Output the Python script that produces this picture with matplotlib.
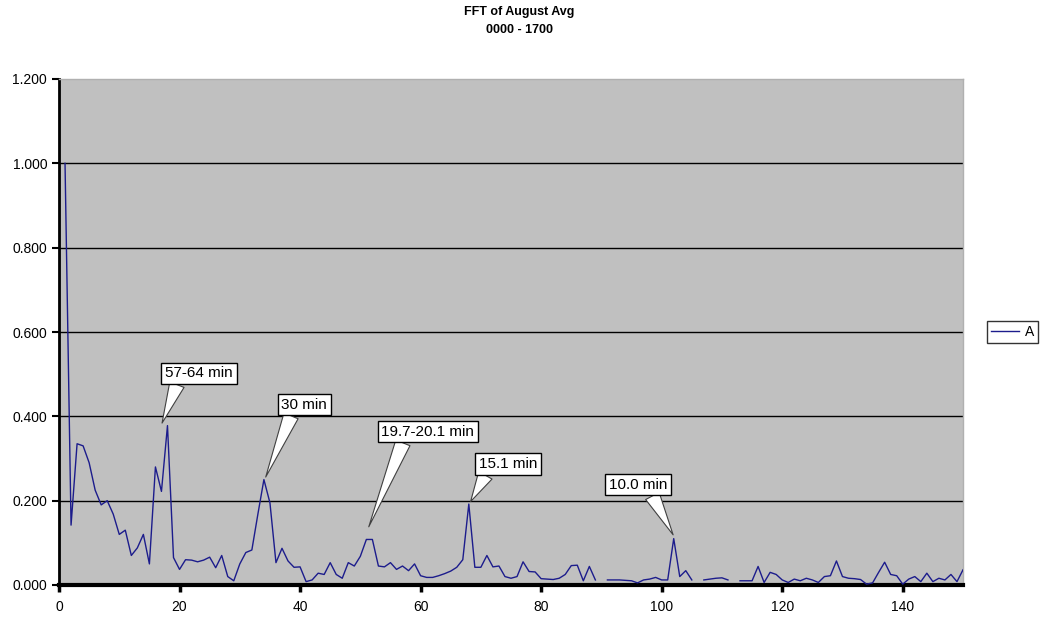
import numpy as np
import matplotlib
matplotlib.use('Agg')
from matplotlib import pyplot as plt

plt.rcParams['font.family'] = ['Liberation Sans', 'DejaVu Sans']

# FFT bin index (1024 samples) and normalised amplitude
k = list(range(1, 151))
amp = [1.000, 0.142, 0.335, 0.330, 0.290, 0.225, 0.190, 0.200, 0.168, 0.120,
       0.130, 0.070, 0.088, 0.120, 0.050, 0.280, 0.222, 0.378, 0.065, 0.037,
       0.060, 0.059, 0.055, 0.059, 0.066, 0.041, 0.070, 0.020, 0.010, 0.050,
       0.077, 0.083, 0.168, 0.250, 0.195, 0.053, 0.087, 0.057, 0.042, 0.043,
       0.008, 0.012, 0.028, 0.025, 0.053, 0.025, 0.016, 0.053, 0.045, 0.068,
       0.108, 0.108, 0.045, 0.043, 0.053, 0.037, 0.045, 0.034, 0.050, 0.022,
       0.018, 0.018, 0.022, 0.027, 0.033, 0.042, 0.060, 0.192, 0.042, 0.042,
       0.070, 0.043, 0.045, 0.020, 0.016, 0.020, 0.055, 0.032, 0.031, 0.015,
       0.014, 0.013, 0.016, 0.025, 0.046, 0.047, 0.010, 0.044, 0.012, np.nan,
       0.012, 0.012, 0.012, 0.011, 0.010, 0.005, 0.012, 0.014, 0.018, 0.012,
       0.012, 0.110, 0.020, 0.034, 0.012, np.nan, 0.012, 0.014, 0.016, 0.017,
       0.012, np.nan, 0.010, 0.010, 0.010, 0.044, 0.006, 0.030, 0.025, 0.012,
       0.006, 0.014, 0.010, 0.016, 0.012, 0.006, 0.020, 0.022, 0.057, 0.020,
       0.016, 0.015, 0.013, 0.002, 0.005, 0.030, 0.054, 0.025, 0.022, 0.002,
       0.014, 0.020, 0.008, 0.028, 0.008, 0.016, 0.012, 0.025, 0.008, 0.036]

# callouts: label, peak point, text point, where the wedge leaves the box
notes = ['57-64 min', '30 min', '19.7-20.1 min', '15.1 min', '10.0 min']
note_xy = [(17.1, 0.384), (34.3, 0.256), (51.4, 0.138), (68.3, 0.198), (101.9, 0.119)]
note_txt = [(17.6, 0.502), (36.9, 0.428), (53.5, 0.364), (69.7, 0.287), (91.3, 0.238)]
note_rel = [(0.2, 0.0), (0.25, 0.0), (0.25, 0.0), (0.15, 0.0), (0.7, 0.0)]

fig = plt.figure(figsize=(10.41, 6.18), dpi=100)
ax = fig.add_axes([59/1041, 1-585/618, (963-59)/1041, (585-79)/618])
ax.set_facecolor('#c0c0c0')

line, = ax.plot(k, amp, color='#1c1c8c', lw=1.0, zorder=3)

ax.set_xlim(0, 150)
ax.set_ylim(0, 1.2)
ax.set_xticks(range(0, 141, 20))
ax.set_yticks(np.arange(0, 1.21, 0.2))
ax.set_yticklabels(['%.3f' % v for v in np.arange(0, 1.21, 0.2)])
for v in [0.2, 0.4, 0.6, 0.8, 1.0]:
    ax.axhline(v, color='black', lw=1, zorder=1)

ax.tick_params(axis='both', direction='out', length=5, width=1.5, labelsize=10, colors='black')
ax.tick_params(axis='x', width=2.5, pad=6)
for s in ['top', 'right']:
    ax.spines[s].set_color('#b0b0b0')
    ax.spines[s].set_linewidth(1)
ax.spines['left'].set_linewidth(2)
ax.spines['bottom'].set_linewidth(3)

for lab, xy, xt, rel in zip(notes, note_xy, note_txt, note_rel):
    ax.annotate(lab, xy=xy, xytext=xt, ha='left', va='center', fontsize=11, zorder=5,
                bbox=dict(boxstyle='square,pad=0.25', fc='white', ec='black', lw=1),
                arrowprops=dict(arrowstyle='wedge,tail_width=1.0,shrink_factor=0.5',
                                fc='white', ec='#404040', lw=0.8, relpos=rel,
                                shrinkA=0, shrinkB=0))

fig.text(519/1041, 1-12/618, 'FFT of August Avg', ha='center', va='center',
         fontsize=9, fontweight='bold')
fig.text(519/1041, 1-30/618, '0000 - 1700', ha='center', va='center',
         fontsize=9, fontweight='bold')

leg = fig.legend([line], ['A'], loc='center left', bbox_to_anchor=(987/1041, 1-332/618),
                 frameon=True, fancybox=False, edgecolor='black', fontsize=10,
                 handlelength=2.0, handletextpad=0.4, borderpad=0.3, borderaxespad=0)
leg.get_frame().set_linewidth(1)

fig.savefig('out.png', dpi=100, facecolor='white')
